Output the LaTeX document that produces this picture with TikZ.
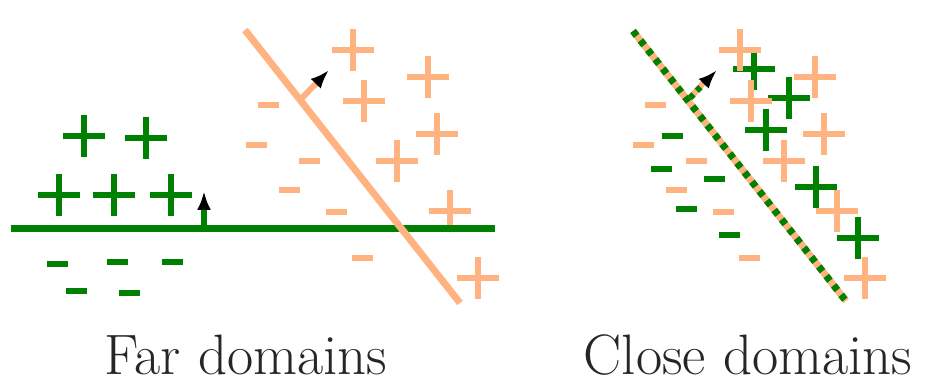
\documentclass[tikz,border=0pt]{standalone}
\usetikzlibrary{arrows.meta}

\definecolor{dgreen}{RGB}{0,128,0}
\definecolor{peach}{RGB}{255,179,128}

\tikzset{
  sep/.style={line width=7pt},
  sample/.style={line width=6.5pt},
  normalvec/.style={-{Latex[black,length=19pt,width=14pt]}, line width=6pt},
  caption/.style={anchor=base, inner sep=0pt, text=black!85, font=\fontsize{57}{62}\selectfont},
}

\begin{document}
\begin{tikzpicture}[x=1pt,y=-1pt]

\useasboundingbox (0,0) rectangle (927,382);

% FAR DOMAINS

% pontos verdes
\foreach \x/\y in {84/136, 146/138, 59/195, 114/195, 171/195}
  \draw[sample, dgreen] (\x-21,\y)--(\x+21,\y) (\x,\y-21)--(\x,\y+21);
\foreach \x/\y in {57/264, 117/262, 172/262, 76/291, 129/293}
  \draw[sample, dgreen] (\x-10.5,\y)--(\x+10.5,\y);

% pontos laranja
\foreach \x/\y in {353/50, 428/77, 364/101, 437/134, 397/161, 450/211, 478/278}
  \draw[sample, peach] (\x-21,\y)--(\x+21,\y) (\x,\y-21)--(\x,\y+21);
\foreach \x/\y in {268/105, 256/145, 309/161, 289/190, 336/212, 362/258}
  \draw[sample, peach] (\x-10.5,\y)--(\x+10.5,\y);

% separadores
\draw[sep, dgreen] (11,229)--(495,229);
\draw[sep, peach] (245,30)--(460,303);

% normais
\coordinate (gn) at (204,229);
\coordinate (on) at (302,98);
\draw[normalvec, dgreen] (gn)--(204,191);
\draw[normalvec, peach] (on)--(329,70);

\node[caption] (far) at (246,374) {Far domains};

% CLOSE DOMAINS

% pontos verdes
\foreach \x/\y in {754/69, 789/98, 766/130, 816/187, 858/238}
  \draw[sample, dgreen] (\x-21,\y)--(\x+21,\y) (\x,\y-21)--(\x,\y+21);
\foreach \x/\y in {672/136, 661/169, 714/179, 686/209, 729/235}
  \draw[sample, dgreen] (\x-10.5,\y)--(\x+10.5,\y);

% pontos laranja
\foreach \x/\y in {740/50, 815/77, 751/101, 824/134, 784/161, 837/211, 865/278}
  \draw[sample, peach] (\x-21,\y)--(\x+21,\y) (\x,\y-21)--(\x,\y+21);
\foreach \x/\y in {655/105, 643/145, 696/161, 676/190, 723/212, 749/258}
  \draw[sample, peach] (\x-10.5,\y)--(\x+10.5,\y);

% separador (os dois juntos)
\draw[sep, peach] (633,31)--(846,301);
\draw[sep, dgreen, dash pattern=on 6pt off 6pt] (633,31)--(846,301);

% normal
\coordinate (cn) at (690,98);
\draw[line width=6pt, peach] (cn)--(706,80);
\draw[normalvec, dgreen, dash pattern=on 5pt off 5pt] (cn)--(717,70);

\node[caption] (close) at (748,374) {Close domains};

\end{tikzpicture}
\end{document}
